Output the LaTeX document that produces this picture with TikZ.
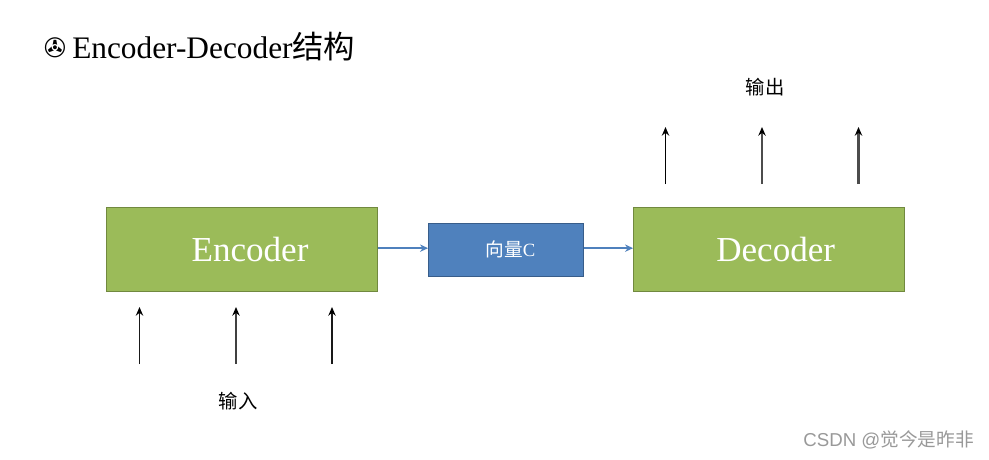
\documentclass[tikz,border=0pt]{standalone}
\usepackage{fontspec}
\setmainfont{Liberation Serif}
\newfontfamily\cjk{Noto Sans CJK SC}
\newfontfamily\symb{DejaVu Sans}
\newfontfamily\wmfont{Liberation Sans}
\usetikzlibrary{arrows.meta}
\definecolor{boxgreen}{HTML}{9BBB59}
\definecolor{boxgreenline}{HTML}{71893F}
\definecolor{boxblue}{HTML}{4F81BD}
\definecolor{boxblueline}{HTML}{385D8A}
\tikzset{
	bigbox/.style={draw=boxgreenline, fill=boxgreen, text=white, minimum width=203.5pt, minimum height=63pt, inner sep=0pt, font=\fontsize{26.3}{30}\selectfont},
	midbox/.style={draw=boxblueline, fill=boxblue, text=white, minimum width=116.5pt, minimum height=39.5pt, inner sep=0pt, font=\fontsize{14}{16}\selectfont},
	midarrow/.style={-{Stealth[length=6pt,width=5.5pt]}, boxblue, line width=1.9pt},
	uparrow/.style={-{Stealth[length=6.5pt,width=5.5pt,color=black]}},
	caption/.style={font=\fontsize{14.5}{17}\selectfont\cjk}
}
\begin{document}
\begin{tikzpicture}[x=0.75pt, y=-0.75pt]
	\useasboundingbox (0,0) rectangle (989,460);
	\fill[white] (0,0) rectangle (989,460);
	
	% === 标题 ===
	\node[anchor=center, inner sep=0pt, font=\fontsize{20}{22}\selectfont\symb] (titlemark) at (55,48) {✇};
	\node[anchor=base west, inner sep=0pt, font=\fontsize{23.5}{30}\selectfont] (title) at (72,59) {Encoder-Decoder{\cjk 结构}};
	
	% === 三个方框 ===
	\node[bigbox] (encoder) at (242,249.5) {\hspace{12pt}Encoder};
	\node[midbox] (vecc) at (506,249.5) {\hspace{6.5pt}{\cjk 向量}C};
	\node[bigbox] (decoder) at (769,249.5) {\hspace{10pt}Decoder};
	
	\draw[midarrow] ([yshift=1pt]encoder.east) -- ([yshift=1pt]vecc.west);
	\draw[midarrow] ([yshift=1pt]vecc.east) -- ([yshift=1pt]decoder.west);
	
	% === 输入箭头 ===
	\foreach \i/\x/\w/\c in {1/139.5/1.1/black!90, 2/236/2.2/black!75, 3/332/1.3/black!90} {
		\coordinate (in\i a) at (\x,364);
		\coordinate (in\i b) at (\x,307);
		\draw[uparrow, line width=\w pt, draw=\c] (in\i a) -- (in\i b);
	}
	\node[caption] (inlabel) at (238,401) {输入};
	
	% === 输出箭头 ===
	\foreach \i/\x/\w/\c in {1/665.5/1.4/black, 2/762/1.2/black!70, 3/858.5/2.3/black!70} {
		\coordinate (out\i a) at (\x,184);
		\coordinate (out\i b) at (\x,127);
		\draw[uparrow, line width=\w pt, draw=\c] (out\i a) -- (out\i b);
	}
	\node[caption] (outlabel) at (765,87) {输出};
	
	% 水印
	\node[anchor=east, inner sep=0pt, text=black!40, font=\fontsize{14}{16}\selectfont\wmfont] (watermark) at (974,440) {CSDN @{\cjk 觉今是昨非}};
\end{tikzpicture}
\end{document}
